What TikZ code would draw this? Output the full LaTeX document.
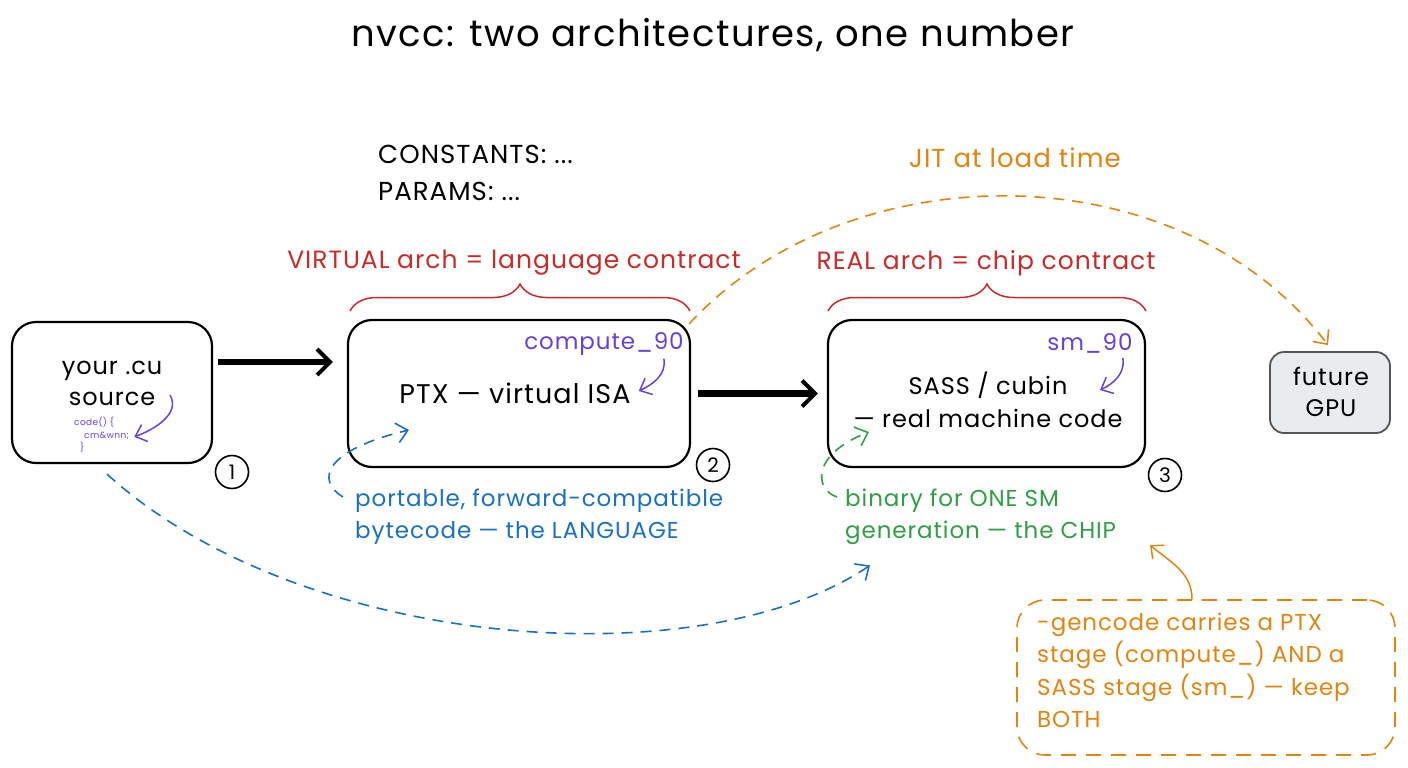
\documentclass[tikz,border=0pt]{standalone}
\usepackage{fontspec}
\setmainfont{Poppins}[LetterSpace=4.0]
\usetikzlibrary{arrows.meta,decorations.pathreplacing,calc}
\definecolor{cred}{HTML}{C92A2A}
\definecolor{cpur}{HTML}{6741D9}
\definecolor{cblue}{HTML}{1971C2}
\definecolor{cgreen}{HTML}{2F9E44}
\definecolor{corange}{HTML}{E08510}
\definecolor{gpufill}{HTML}{E9ECEF}
\definecolor{gpuline}{HTML}{555555}
\tikzset{
  fs/.style={font=\fontsize{#1pt}{\dimexpr#1pt*14/10\relax}\selectfont},
  box/.style={draw, line width=2.2pt, rounded corners=24pt, inner sep=0pt},
  lbl/.style={fs=24, align=center, inner sep=0pt},
  numc/.style={draw, circle, line width=1.6pt, minimum size=33pt, inner sep=0pt, fs=20},
  bigarrow/.style={line width=6.5pt, -{Straight Barb[length=13pt,width=26pt,line width=4pt]}},
  thinarr/.style={line width=1.5pt, -{Straight Barb[length=10pt,width=18pt]}},
  dasharr/.style={line width=1.6pt, dash pattern=on 11pt off 8pt, -{Straight Barb[length=11pt,width=20pt]}},
  redbrace/.style={cred, line width=1.5pt, decorate, decoration={brace, amplitude=27pt, aspect=0.5}},
}
\begin{document}
\begin{tikzpicture}[x=1pt,y=-1pt]
\useasboundingbox (0,0) rectangle (1408,768);
% title
\node[fs=37, inner sep=0pt] (title) at (713,35) {nvcc: two architectures, one number};
% constants
\node[fs=26, align=left, anchor=west, inner sep=0pt] (consts) at (378,173) {CONSTANTS: ...\\PARAMS: ...};
% red labels and braces
\node[lbl, fs=25, text=cred] (vlab) at (514,263) {VIRTUAL arch = language contract};
\node[lbl, fs=25, text=cred] (rlab) at (986,263) {REAL arch = chip contract};
\draw[redbrace] (350,311) -- (690,311);
\draw[redbrace] (828,311) -- (1146,311);
% boxes
\node[box, minimum width=200pt, minimum height=141pt] (b1) at (112,392.5) {};
\node[box, minimum width=342pt, minimum height=147pt] (b2) at (519,393.5) {};
\node[box, minimum width=317pt, minimum height=147pt] (b3) at (986.5,393.5) {};
\node[draw=gpuline, fill=gpufill, line width=1.8pt, rounded corners=14pt, minimum width=120pt, minimum height=81pt] (gpu) at (1330,392.5) {};
% box texts
\node[lbl, font=\fontsize{24pt}{31pt}\selectfont] (src) at (112,383) {your .cu\\source};
\node[fs=9, text=cpur, align=left, anchor=north west, inner sep=0pt] (code) at (74,417) {code() \{\\\hspace*{10pt}cm\&wnn;\\\hspace*{6pt}\}};
\node[lbl, fs=27] (ptx) at (515,393) {PTX — virtual ISA};
\node[lbl, text=cpur, fs=23] (cmp) at (604,344) {compute\textunderscore 90};
\node[lbl, font=\fontsize{24pt}{33pt}\selectfont] (sass) at (988,400) {SASS / cubin\\— real machine code};
\node[lbl, text=cpur, fs=23] (sm) at (1090,343) {sm\textunderscore 90};
\node[lbl, font=\fontsize{24pt}{31pt}\selectfont] (gputxt) at (1331,392) {future\\GPU};
% purple pointers
\draw[thinarr, cpur] (170,395) to[out=-60,in=20] ([xshift=5pt,yshift=-2pt]code.east);
\draw[thinarr, cpur] ([xshift=-20pt,yshift=-3pt]cmp.south east) to[out=-80,in=25] ([xshift=8pt,yshift=2pt]ptx.east);
\draw[thinarr, cpur] ([xshift=-10pt,yshift=-5pt]sm.south east) to[out=-80,in=25] (1100,390);
% numbers
\node[numc] (n1) at (232,472) {1};
\node[numc] (n2) at (713,465) {2};
\node[numc] (n3) at (1165,475) {3};
% thick arrows
\draw[bigarrow] ([xshift=5pt,yshift=30.5pt]b1.east) -- ([xshift=-14pt,yshift=31.5pt]b2.west);
\draw[bigarrow] ([xshift=7pt]b2.east) -- ([xshift=-9pt]b3.west);
% JIT
\node[lbl, fs=26, text=corange] (jit) at (1015,158) {JIT at load time};
\draw[dasharr, corange] ([xshift=-2pt,yshift=-5pt]b2.north east) .. controls (850,150) and (1180,150) .. ([xshift=-2pt,yshift=6pt]gpu.north);
% blue text and arrows
\node[lbl, fs=23, text=cblue, align=left, anchor=north west] (port) at (355,489) {portable, forward-compatible\\bytecode — the LANGUAGE};
\draw[dasharr, cblue] ([xshift=-12pt,yshift=-8pt]port.north west) .. controls (315,480) and (325,450) .. ([xshift=62pt,yshift=-36.5pt]b2.west);
% green text
\node[lbl, fs=23, text=cgreen, align=left, anchor=north west] (bin) at (845,489) {binary for ONE SM\\generation — the CHIP};
\draw[dasharr, cgreen] ([xshift=-8pt,yshift=-8pt]bin.north west) .. controls (815,490) and (810,455) .. ([xshift=42pt,yshift=-38.5pt]b3.west);
% long blue dashed
\draw[dasharr, cblue] ([xshift=-5pt,yshift=-10pt]b1.south) .. controls (300,650) and (700,680) .. ([xshift=25pt,yshift=-20pt]bin.south west);
% note
\coordinate (chiptip) at (1150,545);
\node[draw=corange, line width=1.6pt, dash pattern=on 15pt off 10pt, rounded corners=28pt, minimum width=378pt, minimum height=155pt] (note) at (1206,677.5) {};
\node[fs=23, text=corange, align=left, anchor=north west, inner sep=0pt] (notetxt) at (1037,613) {-gencode carries a PTX\\stage (compute\textunderscore) AND a\\SASS stage (sm\textunderscore) — keep\\BOTH};
\draw[thinarr, corange] ([xshift=-14pt]note.north) to[out=90,in=-40] (chiptip);
\end{tikzpicture}
\end{document}
